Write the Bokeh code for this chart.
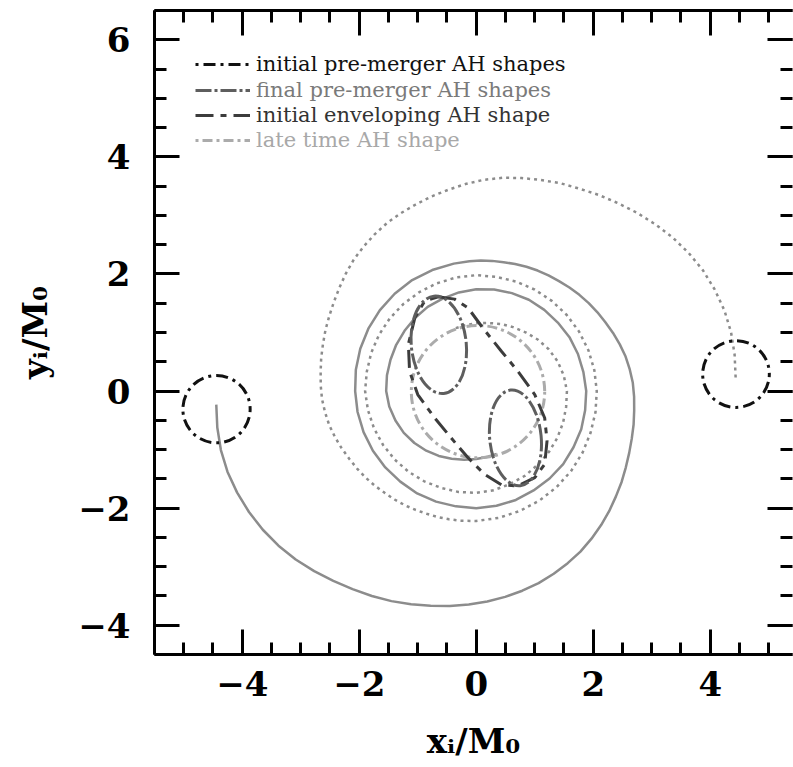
import numpy as np
from bokeh.plotting import figure
from bokeh.models import (Range1d, LinearAxis, SingleIntervalTicker, Legend, LegendItem,
                          CustomJSTickFormatter)
from bokeh.embed import file_html
from bokeh.resources import INLINE

# ---------------- data ----------------
# trajectory of hole 1 (solid grey), read as polar angle (deg) / radius about the origin
traj1_theta = [183, 188, 193, 198, 203, 208, 213, 218, 223, 228, 233, 238, 243, 248, 253, 258,
               263, 268, 273, 278, 283, 288, 293, 298, 303, 308, 313, 318, 323, 328, 333, 338,
               343, 348, 353, 358, 363, 368, 373, 378, 383, 388, 393, 398, 403, 408, 413, 418,
               423, 428, 433, 438, 443, 448, 453, 460, 470, 480, 490, 500, 510, 520, 530, 540,
               550, 560, 570, 580, 590, 600, 610, 620, 630, 640, 650, 660, 670, 680, 690, 700,
               710, 720, 730, 740, 750, 760, 770, 780, 790, 800, 810, 820, 830, 840, 850, 860,
               870, 880, 890, 900, 910, 920, 930, 940, 950, 960, 970, 980, 990, 1000, 1008]
traj1_r = [4.45, 4.47, 4.48, 4.47, 4.44, 4.40, 4.35, 4.29, 4.22, 4.14, 4.06, 3.99, 3.93, 3.87,
           3.81, 3.75, 3.70, 3.65, 3.60, 3.55, 3.50, 3.45, 3.39, 3.33, 3.27, 3.20, 3.13, 3.06,
           2.99, 2.93, 2.87, 2.82, 2.78, 2.75, 2.72, 2.70, 2.68, 2.65, 2.62, 2.58, 2.54, 2.50,
           2.47, 2.44, 2.41, 2.38, 2.35, 2.33, 2.31, 2.29, 2.27, 2.25, 2.24, 2.23, 2.22, 2.21,
           2.20, 2.19, 2.17, 2.15, 2.13, 2.11, 2.09, 2.07, 2.06, 2.05, 2.04, 2.03, 2.02, 2.02,
           2.01, 2.00, 2.00, 1.99, 1.98, 1.96, 1.95, 1.94, 1.92, 1.91, 1.89, 1.88, 1.86, 1.85,
           1.84, 1.82, 1.81, 1.80, 1.78, 1.76, 1.74, 1.71, 1.68, 1.66, 1.63, 1.60, 1.58, 1.56,
           1.55, 1.54, 1.51, 1.47, 1.43, 1.38, 1.33, 1.28, 1.23, 1.19, 1.16, 1.14, 1.13]
# trajectory of hole 2 (dotted grey)
traj2_theta = [3, 8, 13, 18, 23, 28, 33, 38, 43, 48, 53, 58, 63, 68, 73, 78, 83, 88, 93, 98, 103,
               108, 113, 118, 123, 128, 133, 138, 143, 148, 153, 158, 163, 168, 173, 178, 183,
               188, 193, 198, 203, 208, 213, 218, 223, 228, 233, 238, 243, 248, 253, 258, 263,
               270, 280, 290, 300, 310, 320, 330, 340, 350, 360, 370, 380, 390, 400, 410, 420,
               430, 440, 450, 460, 470, 480, 490, 500, 510, 520, 530, 540, 550, 560, 570, 580,
               590, 600, 610, 620, 630, 640, 650, 660, 670, 680, 690, 700, 710, 720, 730, 740,
               750, 760, 770, 780, 790, 800, 810, 820, 828]
traj2_r = [4.44, 4.46, 4.47, 4.46, 4.43, 4.39, 4.33, 4.26, 4.18, 4.10, 4.02, 3.95, 3.88, 3.83,
           3.77, 3.72, 3.67, 3.61, 3.54, 3.47, 3.41, 3.35, 3.30, 3.25, 3.19, 3.13, 3.07, 3.00,
           2.93, 2.87, 2.82, 2.78, 2.74, 2.71, 2.68, 2.66, 2.64, 2.61, 2.58, 2.54, 2.50, 2.46,
           2.43, 2.40, 2.37, 2.34, 2.32, 2.30, 2.28, 2.26, 2.25, 2.24, 2.23, 2.22, 2.20, 2.18,
           2.16, 2.14, 2.12, 2.10, 2.08, 2.07, 2.06, 2.05, 2.04, 2.03, 2.02, 2.01, 2.00, 1.99,
           1.98, 1.98, 1.97, 1.96, 1.95, 1.94, 1.93, 1.92, 1.91, 1.90, 1.90, 1.88, 1.86, 1.84,
           1.82, 1.80, 1.78, 1.76, 1.75, 1.74, 1.72, 1.69, 1.67, 1.64, 1.62, 1.60, 1.58, 1.56,
           1.55, 1.52, 1.48, 1.43, 1.37, 1.31, 1.26, 1.22, 1.18, 1.16, 1.14, 1.13]

# initial pre-merger AH shapes (two circles)
init_cx = [-4.44, 4.44]
init_cy = [-0.31, 0.29]
init_w = [1.15, 1.14]
init_h = [1.15, 1.14]

# final pre-merger AH shapes (two tilted ellipses)
final_cx = [-0.64, 0.67]
final_cy = [0.79, -0.80]
final_w = [0.94, 0.88]
final_h = [1.67, 1.64]
final_angle = [0.1, 0.1]

# initial enveloping AH shape (peanut)
env_x = [-0.65, -0.37, -0.14, 0.11, 0.43, 0.71, 1.0, 1.17, 1.21, 1.17, 1.0, 0.71, 0.43, 0.14,
         -0.14, -0.43, -0.71, -1.0, -1.14, -1.16, -1.05, -0.88, -0.65]
env_y = [1.61, 1.57, 1.42, 1.08, 0.68, 0.34, -0.06, -0.46, -0.85, -1.25, -1.48, -1.62, -1.6,
         -1.42, -1.14, -0.8, -0.46, -0.06, 0.34, 0.8, 1.25, 1.54, 1.61]

# late time AH shape (circle)
late_cx = [0.03]
late_cy = [-0.01]
late_w = [2.28]
late_h = [2.26]

tick_vals = [-4, -2, 0, 2, 4, 6]
tick_labels = ["\u22124", "\u22122", "0", "2", "4", "6"]

legend_labels = ["initial pre-merger AH shapes", "final pre-merger AH shapes",
                 "initial enveloping AH shape", "late time AH shape"]

# polar readings -> cartesian
t1 = np.radians(traj1_theta)
traj1_x = np.array(traj1_r) * np.cos(t1)
traj1_y = np.array(traj1_r) * np.sin(t1)
t2 = np.radians(traj2_theta)
traj2_x = np.array(traj2_r) * np.cos(t2)
traj2_y = np.array(traj2_r) * np.sin(t2)

# ---------------- styles ----------------
C_INIT = "#111111"
C_FINAL = "#5e5e5e"
C_ENV = "#3c3c3c"
C_LATE = "#ababab"
C_TRAJ = "#8c8c8c"
TXT_INIT = "#111111"
TXT_FINAL = "#7a7a7a"
TXT_ENV = "#333333"
TXT_LATE = "#a8a8a8"

D_INIT = "3 5 12 5"
D_FINAL = "16 3 3 3"
D_ENV = "18 7 6 7"
D_LATE = "3 4 10 4"
D_DOT = "3 4"

p = figure(width=793, height=767, x_range=Range1d(-5.5, 5.406), y_range=Range1d(-4.5, 6.5),
           output_backend="svg", toolbar_location=None,
           min_border_left=154, min_border_right=1, min_border_top=10, min_border_bottom=113)
p.outline_line_color = None
p.grid.visible = False
p.background_fill_color = "white"
p.border_fill_color = "white"

overrides = {v: l for v, l in zip(tick_vals, tick_labels)}


def style_axis(ax, show_labels=True, show_line=True):
    ax.ticker = SingleIntervalTicker(interval=2, num_minor_ticks=4)
    ax.major_tick_in = 25
    ax.major_tick_out = 0
    ax.minor_tick_in = 12
    ax.minor_tick_out = 0
    ax.major_tick_line_width = 3
    ax.minor_tick_line_width = 3
    ax.major_tick_line_color = "black"
    ax.minor_tick_line_color = "black"
    ax.axis_line_width = 3
    ax.axis_line_color = "black" if show_line else None
    if show_labels:
        ax.major_label_overrides = overrides
        ax.major_label_text_font = "DejaVu Serif"
        ax.major_label_text_font_size = "34px"
        ax.major_label_text_font_style = "bold"
        ax.major_label_text_color = "black"
        ax.axis_label_text_font = "DejaVu Serif"
        ax.axis_label_text_font_size = "34px"
        ax.axis_label_text_font_style = "bold"
        ax.axis_label_text_color = "black"
    else:
        ax.formatter = CustomJSTickFormatter(code="return ''")
        ax.major_label_text_font_size = "0px"
        ax.major_label_standoff = 0


style_axis(p.xaxis[0])
style_axis(p.yaxis[0])
p.xaxis[0].axis_label = "x\u1d62/M\u2080"
p.yaxis[0].axis_label = "y\u1d62/M\u2080"
p.xaxis[0].major_label_standoff = 16
p.xaxis[0].axis_label_standoff = 22
p.yaxis[0].major_label_standoff = 24
p.yaxis[0].axis_label_standoff = 20

top_ax = LinearAxis()
style_axis(top_ax, show_labels=False)
p.add_layout(top_ax, "above")
right_ax = LinearAxis()
style_axis(right_ax, show_labels=False, show_line=False)
p.add_layout(right_ax, "right")

# trajectories
p.line(traj1_x, traj1_y, line_color=C_TRAJ, line_width=2.5)
p.line(traj2_x, traj2_y, line_color=C_TRAJ, line_width=2.5, line_dash=D_DOT)

# shapes
p.ellipse(x=late_cx, y=late_cy, width=late_w, height=late_h, fill_color=None,
          line_color=C_LATE, line_width=3, line_dash=D_LATE)
p.line(env_x, env_y, line_color=C_ENV, line_width=3, line_dash=D_ENV)
p.ellipse(x=final_cx, y=final_cy, width=final_w, height=final_h, angle=final_angle,
          fill_color=None, line_color=C_FINAL, line_width=3, line_dash=D_FINAL)
p.ellipse(x=init_cx, y=init_cy, width=init_w, height=init_h, fill_color=None,
          line_color=C_INIT, line_width=3, line_dash=D_INIT)

# legend proxies (a single NaN point, so nothing is drawn in the frame)
proxy_styles = [(C_INIT, D_INIT, TXT_INIT), (C_FINAL, D_FINAL, TXT_FINAL),
                (C_ENV, D_ENV, TXT_ENV), (C_LATE, D_LATE, TXT_LATE)]
row_bottoms = [578, 552, 527, 502]
for lab, (lc, ld, tc), yb in zip(legend_labels, proxy_styles, row_bottoms):
    r = p.line(x=[np.nan], y=[np.nan], line_color=lc, line_width=3, line_dash=ld)
    lg = Legend(items=[LegendItem(label=lab, renderers=[r])], location=(41, yb),
                label_text_font="DejaVu Serif", label_text_font_size="21px",
                label_text_color=tc, glyph_width=55, glyph_height=20, label_height=20,
                label_standoff=6, padding=0, margin=0, spacing=0,
                border_line_color=None, background_fill_alpha=0)
    p.add_layout(lg)

open("out.html", "w").write(file_html(p, INLINE))
